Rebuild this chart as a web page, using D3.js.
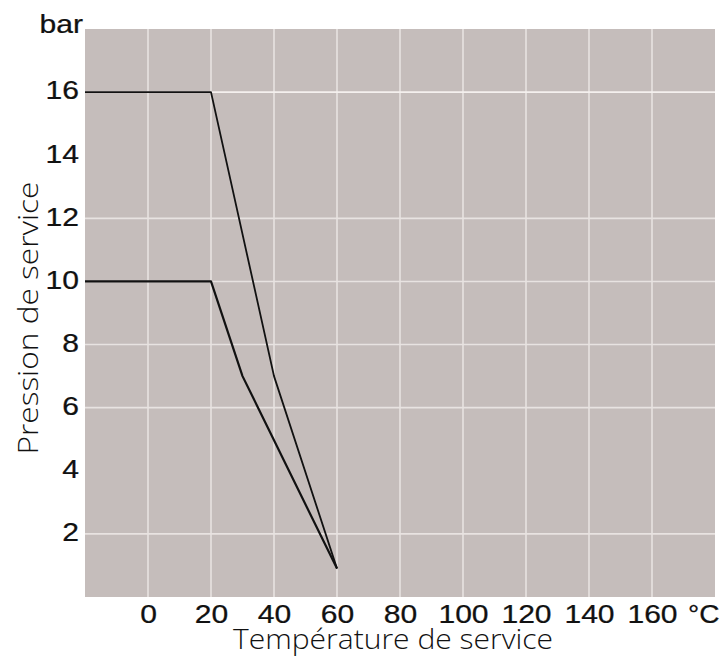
<!DOCTYPE html>
<html>
<head>
<meta charset="utf-8">
<script src="https://cdn.jsdelivr.net/npm/d3@7"></script>
<style>
  body { margin: 0; background: #fff; }
  .tick-label { font-family: "Liberation Sans", Arial, sans-serif; font-size: 25.5px; fill: #111; stroke: #111; stroke-width: 0.25px; }
  .axis-title { font-family: "Open Sans", "Liberation Sans", sans-serif; font-weight: 300; font-size: 28px; fill: #111; }
</style>
</head>
<body>
<div id="chart"></div>
<script>
// temperature (°C) / pressure (bar) values
const tempTicks = [0, 20, 40, 60, 80, 100, 120, 140, 160];
const pressTicks = [2, 4, 6, 8, 10, 12, 14, 16];
const pressGrid = [2, 6, 8, 10, 12, 16];

const upperTemps = [-20, 20, 40, 60];
const upperPress = [16, 16, 7, 0.9];
const lowerTemps = [-20, 20, 30, 60];
const lowerPress = [10, 10, 7, 0.9];

const config = {
  width: 720,
  height: 657,
  margin: { top: 29, right: 5, bottom: 60, left: 85 },
};

const width = config.width - config.margin.left - config.margin.right;
const height = config.height - config.margin.top - config.margin.bottom;

const xScale = d3.scaleLinear().domain([-20, 180]).range([0, width]);
const yScale = d3.scaleLinear().domain([0, 18]).range([height, 0]);

const svg = d3.select("#chart")
  .append("svg")
  .attr("width", config.width)
  .attr("height", config.height);

const chart = svg.append("g")
  .attr("transform", `translate(${config.margin.left},${config.margin.top})`);

// plot background
chart.append("rect")
  .attr("width", width)
  .attr("height", height)
  .attr("fill", "#c5bdbb");

// grid lines
chart.selectAll(".vgrid")
  .data(tempTicks)
  .enter()
  .append("line")
  .attr("class", "vgrid")
  .attr("x1", d => xScale(d))
  .attr("x2", d => xScale(d))
  .attr("y1", 0)
  .attr("y2", height)
  .attr("stroke", "#e8e3e1")
  .attr("stroke-width", 1.6);

chart.selectAll(".hgrid")
  .data(pressGrid)
  .enter()
  .append("line")
  .attr("class", "hgrid")
  .attr("x1", 0)
  .attr("x2", width)
  .attr("y1", d => yScale(d))
  .attr("y2", d => yScale(d))
  .attr("stroke", d => d === 16 ? "#f4f0ee" : "#e8e3e1")
  .attr("stroke-width", 1.6);

// curves
const line = d3.line()
  .x(d => xScale(d[0]))
  .y(d => yScale(d[1]));

chart.append("path")
  .datum(upperTemps.map((t, i) => [t, upperPress[i]]))
  .attr("d", line)
  .attr("fill", "none")
  .attr("stroke", "#111")
  .attr("stroke-width", 1.8)
  .attr("stroke-linejoin", "round");

chart.append("path")
  .datum(lowerTemps.map((t, i) => [t, lowerPress[i]]))
  .attr("d", line)
  .attr("fill", "none")
  .attr("stroke", "#111")
  .attr("stroke-width", 2.2)
  .attr("stroke-linejoin", "round");

// axes (labels only)
const xAxis = d3.axisBottom(xScale)
  .tickValues(tempTicks)
  .tickSize(0)
  .tickPadding(8);

const xAxisGroup = chart.append("g")
  .attr("transform", `translate(0,${height})`)
  .call(xAxis);
xAxisGroup.select(".domain").remove();
xAxisGroup.selectAll("text")
  .attr("class", "tick-label")
  .attr("transform", "scale(1.18,1)")
  .attr("x", 0);

const yAxis = d3.axisLeft(yScale)
  .tickValues(pressTicks)
  .tickSize(0);

const yAxisGroup = chart.append("g").call(yAxis);
yAxisGroup.select(".domain").remove();
yAxisGroup.selectAll("text")
  .attr("class", "tick-label")
  .attr("x", 0)
  .attr("dy", "0.27em")
  .attr("transform", "translate(-6,0) scale(1.18,1)");

// unit labels
chart.append("text")
  .attr("class", "tick-label")
  .attr("text-anchor", "end")
  .attr("transform", `translate(-2,4) scale(1.18,1)`)
  .text("bar");

chart.append("text")
  .attr("class", "tick-label")
  .attr("text-anchor", "start")
  .attr("transform", `translate(${xScale(160) + 36},${height + 26}) scale(1.1,1)`)
  .text("°C");

// axis titles
svg.append("text")
  .attr("class", "axis-title")
  .attr("x", 393)
  .attr("y", 649)
  .attr("text-anchor", "middle")
  .attr("textLength", 320)
  .attr("lengthAdjust", "spacingAndGlyphs")
  .text("Température de service");

svg.append("text")
  .attr("class", "axis-title")
  .attr("transform", "translate(38,318) rotate(-90)")
  .attr("text-anchor", "middle")
  .attr("textLength", 273)
  .attr("lengthAdjust", "spacingAndGlyphs")
  .text("Pression de service");
</script>
</body>
</html>
